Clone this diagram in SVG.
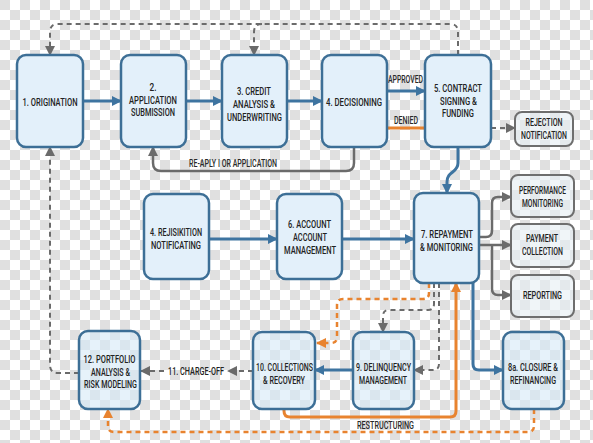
<svg xmlns="http://www.w3.org/2000/svg" width="593" height="443" viewBox="0 0 593 443">
<defs>
<pattern id="chk" width="20" height="20" patternUnits="userSpaceOnUse">
<rect width="20" height="20" fill="#ffffff"/>
<rect width="10" height="10" fill="#e0e0e0"/>
<rect x="10" y="10" width="10" height="10" fill="#e0e0e0"/>
</pattern>
<marker id="ab" viewBox="0 0 10 10" refX="9" refY="5" markerWidth="10" markerHeight="10" markerUnits="userSpaceOnUse" orient="auto"><path d="M0,0 L10,5 L0,10 z" fill="#3e74a0"/></marker>
<marker id="ag" viewBox="0 0 10 10" refX="9" refY="5" markerWidth="10" markerHeight="10" markerUnits="userSpaceOnUse" orient="auto"><path d="M0,0 L10,5 L0,10 z" fill="#6b6b6b"/></marker>
<marker id="ao" viewBox="0 0 10 10" refX="9" refY="5" markerWidth="10" markerHeight="10" markerUnits="userSpaceOnUse" orient="auto"><path d="M0,0 L10,5 L0,10 z" fill="#e8832f"/></marker>
</defs>
<style>
.n{fill:#e3f0fa;stroke:#3d6f96;stroke-width:2.5}
.nt{fill:#d6e9f7;fill-opacity:0.6;stroke:#3d6f96;stroke-width:2.5}
.g{fill:#e6eef4;fill-opacity:0.6;stroke:#6e6e6e;stroke-width:2}
.t{font-family:Roboto,"Liberation Sans",Arial,sans-serif;font-weight:500;font-size:11.5px;fill:#222}
.l{font-family:Roboto,"Liberation Sans",Arial,sans-serif;font-weight:500;font-size:10.5px;fill:#2a2a2a}
.cb{fill:none;stroke:#3e74a0;stroke-width:3}
.cg{fill:none;stroke:#6b6b6b;stroke-width:2;stroke-dasharray:5 4}
.cs{fill:none;stroke:#6b6b6b;stroke-width:2.5}
.co{fill:none;stroke:#e8832f;stroke-width:2.5;stroke-dasharray:5 4}
.cos{fill:none;stroke:#e8832f;stroke-width:3}
</style>
<rect width="593" height="443" fill="url(#chk)"/>

<g id="connectors">
<path class="cb" d="M83,101 H121" marker-end="url(#ab)"/>
<path class="cb" d="M186,101 H222" marker-end="url(#ab)"/>
<path class="cb" d="M287,101 H322" marker-end="url(#ab)"/>
<path class="cb" d="M387,91 H425" marker-end="url(#ab)"/>
<path class="cos" d="M387,128 H425"/>
<path class="cg" d="M491,128 H515" marker-end="url(#ag)"/>
<path class="cg" d="M458,55 V32 Q458,24 450,24 H58 Q50,24 50,32 V55" marker-end="url(#ag)"/>
<path class="cg" d="M262,24 Q254,24 254,32 V55" marker-end="url(#ag)"/>
<path class="cg" d="M79,373 H58 Q50,373 50,365 V147" marker-end="url(#ag)"/>
<path class="cs" d="M354,147 V163 Q354,171 346,171 H161 Q153,171 153,163 V147" marker-end="url(#ag)"/>
<path class="cb" d="M458,147 V163 C458,173 447,171 447,182 V193" marker-end="url(#ab)"/>
<path class="cb" d="M209,239 H277" marker-end="url(#ab)"/>
<path class="cb" d="M342,239 H414" marker-end="url(#ab)"/>
<path class="cs" d="M479,237 H486 Q492,237 492,231 V203 Q492,197 498,197 H511" marker-end="url(#ag)"/>
<path class="cs" d="M479,245 H511" marker-end="url(#ag)"/>
<path class="cs" d="M492,245 V289 Q492,295 498,295 H511" marker-end="url(#ag)"/>
<path class="cb" d="M473,283 V364 Q473,370 479,370 H503" marker-end="url(#ab)"/>
<path class="cg" d="M434,283 V304 Q434,310 428,310 H389 Q383,310 383,316 V332" marker-end="url(#ag)"/>
<path class="cg" d="M439,283 V364 Q439,370 433,370 H414" marker-end="url(#ag)"/>
<path class="co" d="M429,283 V293 Q429,299 423,299 H343 Q337,299 337,305 V337 Q337,343 331,343 H317" marker-end="url(#ao)"/>
<path class="cos" d="M284,409 V411 Q284,417 290,417 H450 Q456,417 456,411 V283" marker-end="url(#ao)"/>
<path class="cb" d="M353,370 H315" marker-end="url(#ab)"/>
<path class="cg" d="M253,371 H228" marker-end="url(#ag)"/>
<path class="cg" d="M164,371 H141" marker-end="url(#ag)"/>
<path class="co" d="M534,409 V426 Q534,432 528,432 H114 Q108,432 108,426 V409" marker-end="url(#ao)"/>
<text class="l" x="388" y="83" textLength="35" lengthAdjust="spacingAndGlyphs">APPROVED</text>
<text class="l" x="394" y="124" textLength="24" lengthAdjust="spacingAndGlyphs">DENIED</text>
<text class="l" x="189" y="167" textLength="88" lengthAdjust="spacingAndGlyphs">RE-APLY I OR APPLICATION</text>
<text class="t" x="168" y="375" textLength="56" lengthAdjust="spacingAndGlyphs">11. CHARGE-OFF</text>
<text class="l" x="357" y="429" textLength="57" lengthAdjust="spacingAndGlyphs">RESTRUCTURING</text>
</g>

<g id="n1"><rect class="n" x="17" y="55" width="66" height="92" rx="9"/>
<text class="t" x="22.5" y="106" textLength="55" lengthAdjust="spacingAndGlyphs">1. ORIGINATION</text></g>
<g id="n2"><rect class="n" x="121" y="55" width="65" height="92" rx="9"/>
<text class="t" x="149.5" y="91" textLength="7" lengthAdjust="spacingAndGlyphs">2.</text>
<text class="t" x="129" y="103.5" textLength="48" lengthAdjust="spacingAndGlyphs">APPLICATION</text>
<text class="t" x="131" y="116" textLength="44" lengthAdjust="spacingAndGlyphs">SUBMISSION</text></g>
<g id="n3"><rect class="n" x="222" y="55" width="65" height="92" rx="9"/>
<text class="t" x="237" y="95" textLength="34" lengthAdjust="spacingAndGlyphs">3. CREDIT</text>
<text class="t" x="233" y="108" textLength="42" lengthAdjust="spacingAndGlyphs">ANALYSIS &amp;</text>
<text class="t" x="227" y="121" textLength="55" lengthAdjust="spacingAndGlyphs">UNDERWRITING</text></g>
<g id="n4"><rect class="n" x="322" y="55" width="65" height="92" rx="9"/>
<text class="t" x="326" y="106" textLength="56" lengthAdjust="spacingAndGlyphs">4. DECISIONING</text></g>
<g id="n5"><rect class="n" x="425" y="55" width="66" height="92" rx="9"/>
<text class="t" x="434" y="92" textLength="48" lengthAdjust="spacingAndGlyphs">5. CONTRACT</text>
<text class="t" x="440" y="104.5" textLength="37" lengthAdjust="spacingAndGlyphs">SIGNING &amp;</text>
<text class="t" x="442" y="117" textLength="32" lengthAdjust="spacingAndGlyphs">FUNDING</text></g>
<g id="rej"><rect class="g" x="515" y="112" width="58" height="34" rx="7"/>
<text class="t" x="525.5" y="126" textLength="37" lengthAdjust="spacingAndGlyphs">REJECTION</text>
<text class="t" x="521" y="138.5" textLength="46" lengthAdjust="spacingAndGlyphs">NOTIFICATION</text></g>
<g id="n4b"><rect class="n" x="144" y="194" width="65" height="85" rx="9"/>
<text class="t" x="150" y="236" textLength="52" lengthAdjust="spacingAndGlyphs">4. REJISIKITION</text>
<text class="t" x="151" y="248.5" textLength="50" lengthAdjust="spacingAndGlyphs">NOTIFICATING</text></g>
<g id="n6"><rect class="n" x="277" y="194" width="65" height="85" rx="9"/>
<text class="t" x="288" y="228" textLength="43" lengthAdjust="spacingAndGlyphs">6. ACCOUNT</text>
<text class="t" x="293" y="241" textLength="34" lengthAdjust="spacingAndGlyphs">ACCOUNT</text>
<text class="t" x="284" y="254" textLength="52" lengthAdjust="spacingAndGlyphs">MANAGEMENT</text></g>
<g id="n7"><rect class="n" x="414" y="193" width="65" height="90" rx="9"/>
<text class="t" x="421" y="238" textLength="52" lengthAdjust="spacingAndGlyphs">7. REPAYMENT</text>
<text class="t" x="420" y="251" textLength="53" lengthAdjust="spacingAndGlyphs">&amp; MONITORING</text></g>
<g id="perf"><rect class="g" x="511" y="175" width="63" height="42" rx="7"/>
<text class="t" x="519" y="194" textLength="47" lengthAdjust="spacingAndGlyphs">PERFORMANCE</text>
<text class="t" x="522" y="206.5" textLength="41" lengthAdjust="spacingAndGlyphs">MONITORING</text></g>
<g id="pay"><rect class="g" x="511" y="224" width="63" height="43" rx="7"/>
<text class="t" x="526" y="242" textLength="32" lengthAdjust="spacingAndGlyphs">PAYMENT</text>
<text class="t" x="522" y="254.5" textLength="41" lengthAdjust="spacingAndGlyphs">COLLECTION</text></g>
<g id="rep"><rect class="g" x="511" y="275" width="63" height="42" rx="7"/>
<text class="t" x="523" y="299" textLength="39" lengthAdjust="spacingAndGlyphs">REPORTING</text></g>
<g id="n12"><rect class="nt" x="79" y="331" width="61" height="78" rx="9"/>
<text class="t" x="83.5" y="363" textLength="52" lengthAdjust="spacingAndGlyphs">12. PORTFOLIO</text>
<text class="t" x="91" y="375.5" textLength="39" lengthAdjust="spacingAndGlyphs">ANALYSIS &amp;</text>
<text class="t" x="84" y="388" textLength="53" lengthAdjust="spacingAndGlyphs">RISK MODELING</text></g>
<g id="n10"><rect class="nt" x="253" y="332" width="62" height="77" rx="9"/>
<text class="t" x="256" y="371" textLength="57" lengthAdjust="spacingAndGlyphs">10. COLLECTIONS</text>
<text class="t" x="263" y="383.5" textLength="42" lengthAdjust="spacingAndGlyphs">&amp; RECOVERY</text></g>
<g id="n9"><rect class="nt" x="353" y="332" width="61" height="77" rx="9"/>
<text class="t" x="356" y="371" textLength="55" lengthAdjust="spacingAndGlyphs">9. DELINQUENCY</text>
<text class="t" x="359" y="383.5" textLength="48" lengthAdjust="spacingAndGlyphs">MANAGEMENT</text></g>
<g id="n8a"><rect class="nt" x="503" y="332" width="61" height="77" rx="9"/>
<text class="t" x="508" y="371" textLength="50" lengthAdjust="spacingAndGlyphs">8a. CLOSURE &amp;</text>
<text class="t" x="510" y="383.5" textLength="46" lengthAdjust="spacingAndGlyphs">REFINANCING</text></g>
</svg>
